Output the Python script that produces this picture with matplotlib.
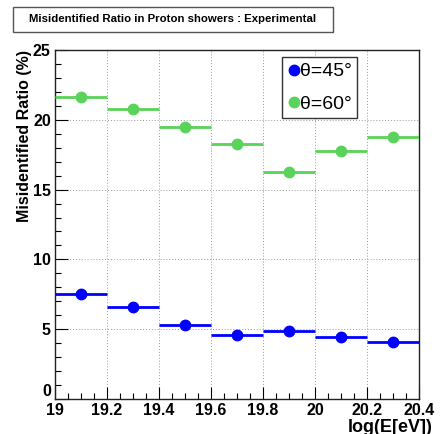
import matplotlib
matplotlib.use("Agg")
import matplotlib.pyplot as plt
from matplotlib.ticker import MultipleLocator
from matplotlib.lines import Line2D
from matplotlib.patches import Rectangle

plt.rcParams['font.family'] = ['Liberation Sans', 'DejaVu Sans']

bin_centers = [19.1, 19.3, 19.5, 19.7, 19.9, 20.1, 20.3]
bin_halfwidth = 0.1
ratio_45 = [7.53, 6.59, 5.28, 4.62, 4.85, 4.46, 4.05]
ratio_60 = [21.6, 20.8, 19.45, 18.3, 16.28, 17.8, 18.8]
labels = ["θ=45°", "θ=60°"]
colors = ["#0000FF", "#5AD35A"]
title = "Misidentified Ratio in Proton showers : Experimental"
xlabel = "log(E[eV])"
ylabel = "Misidentified Ratio (%)"
xticks = [19, 19.2, 19.4, 19.6, 19.8, 20, 20.2, 20.4]
xticklabels = ["19", "19.2", "19.4", "19.6", "19.8", "20", "20.2", "20.4"]
yticks = [0, 5, 10, 15, 20, 25]
yticklabels = ["0", "5", "10", "15", "20", "25"]

W, H = 440, 434
fig = plt.figure(figsize=(4.4, 4.34), dpi=100)
ax = fig.add_axes([55 / W, 1 - 399 / H, (419 - 55) / W, (399 - 50) / H])

for vals, col in zip([ratio_45, ratio_60], colors):
    ax.errorbar(bin_centers, vals, xerr=bin_halfwidth, fmt='o', color=col,
                ms=7.5, elinewidth=2, capsize=0, zorder=3)

ax.set_xlim(19, 20.4)
ax.set_ylim(0, 25)
ax.xaxis.set_minor_locator(MultipleLocator(0.05))
ax.yaxis.set_minor_locator(MultipleLocator(1))
ax.tick_params(which='both', direction='in', top=False, right=False)
ax.tick_params(which='major', length=9, width=0.8, labelsize=11.5, pad=3)
ax.tick_params(which='minor', length=4.5, width=0.8)
ax.set_xticks(xticks)
ax.set_xticklabels(xticklabels, fontweight='bold')
ax.set_yticks(yticks)
ax.set_yticklabels(yticklabels, fontweight='bold')
ax.get_yticklabels()[0].set_verticalalignment('bottom')
ax.grid(True, which='major', linestyle=(0, (1, 2)), color='#999999', linewidth=0.7)
for s in ax.spines.values():
    s.set_linewidth(1.0)
    s.set_color('#222222')

fig.text(433 / W, 1 - 427 / H, xlabel, ha='right', va='center',
         fontweight='bold', fontsize=13)
fig.text(25 / W, 1 - 50 / H, ylabel, ha='center', va='top', rotation=90,
         fontweight='bold', fontsize=11.5)

handles = [Line2D([], [], marker='o', ls='none', color=c, ms=7.5) for c in colors]
leg = ax.legend(handles, labels, loc='upper left',
                bbox_to_anchor=((282 - 55) / (419 - 55), (399 - 57) / (399 - 50)),
                fontsize=14, handletextpad=0.0, handlelength=0.6, borderpad=0.3,
                borderaxespad=0, labelspacing=0.75, fancybox=False,
                edgecolor='#333333', framealpha=1)
leg.get_frame().set_linewidth(1.0)

fig.add_artist(Rectangle((13 / W, 1 - 32 / H), (333 - 13) / W, 25 / H,
                         transform=fig.transFigure, fc='white', ec='#555555', lw=1.0))
fig.text(173 / W, 1 - 19.5 / H, title, ha='center', va='center', fontsize=8.2,
         fontweight='bold')

fig.savefig("out.png", dpi=100)
